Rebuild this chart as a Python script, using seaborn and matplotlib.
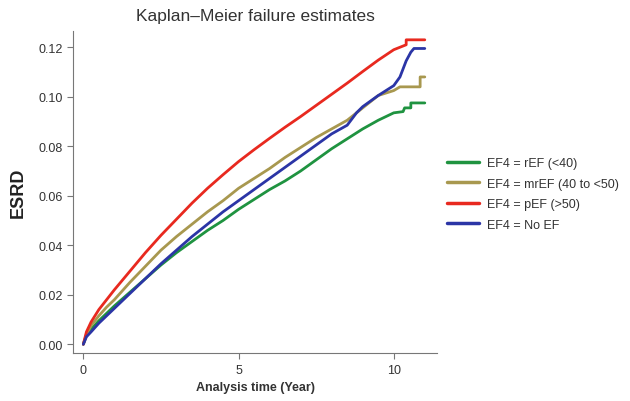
import matplotlib
matplotlib.use("Agg")
import matplotlib.pyplot as plt
import seaborn as sns
import pandas as pd

# Kaplan-Meier failure estimates
groups = ["EF4 = rEF (<40)", "EF4 = mrEF (40 to <50)", "EF4 = pEF (>50)", "EF4 = No EF"]
colors = ["#1f9340", "#a8984f", "#e8291f", "#2b35a6"]

time_ref = [0, 0.1, 0.25, 0.5, 0.75, 1, 1.5, 2, 2.5, 3, 3.5, 4, 4.5, 5, 5.5, 6, 6.5, 7, 7.5, 8, 8.5, 9,
            9.5, 10, 10.3, 10.35, 10.55, 10.55, 11.0]
esrd_ref = [0, 0.0035, 0.006, 0.0095, 0.0125, 0.0155, 0.021, 0.0265, 0.032, 0.037, 0.0415, 0.046,
            0.050, 0.0545, 0.0585, 0.0625, 0.066, 0.070, 0.0745, 0.079, 0.083, 0.087, 0.0905,
            0.0935, 0.094, 0.0955, 0.0955, 0.0975, 0.0975]

time_mref = [0, 0.1, 0.25, 0.5, 0.75, 1, 1.5, 2, 2.5, 3, 3.5, 4, 4.5, 5, 5.5, 6, 6.5, 7, 7.5, 8, 8.5, 9,
             9.5, 10, 10.2, 10.85, 10.85, 11.0]
esrd_mref = [0, 0.004, 0.0075, 0.0115, 0.015, 0.018, 0.025, 0.0315, 0.038, 0.0435, 0.0485, 0.0535,
             0.058, 0.063, 0.067, 0.071, 0.0755, 0.0795, 0.0835, 0.087, 0.0905, 0.0955, 0.1005,
             0.1025, 0.104, 0.104, 0.108, 0.108]

time_pef = [0, 0.1, 0.25, 0.5, 0.75, 1, 1.5, 2, 2.5, 3, 3.5, 4, 4.5, 5, 5.5, 6, 6.5, 7, 7.5, 8, 8.5, 9,
            9.5, 10, 10.3, 10.4, 10.4, 11.0]
esrd_pef = [0, 0.005, 0.009, 0.014, 0.018, 0.022, 0.0295, 0.037, 0.044, 0.0505, 0.057, 0.063,
            0.0685, 0.0738, 0.0786, 0.0832, 0.0877, 0.092, 0.0965, 0.101, 0.1055, 0.1102, 0.1148,
            0.119, 0.1205, 0.121, 0.123, 0.123]

time_noef = [0, 0.1, 0.25, 0.5, 0.75, 1, 1.5, 2, 2.5, 3, 3.5, 4, 4.5, 5, 5.5, 6, 6.5, 7, 7.5, 8, 8.5,
             8.8, 9, 9.5, 10, 10.2, 10.4, 10.55, 10.65, 11.0]
esrd_noef = [0, 0.003, 0.005, 0.0085, 0.0115, 0.0145, 0.0205, 0.0265, 0.0325, 0.038, 0.0435, 0.0485,
             0.0535, 0.058, 0.0625, 0.067, 0.0715, 0.076, 0.0805, 0.085, 0.0885, 0.0935, 0.096,
             0.1005, 0.1045, 0.108, 0.1145, 0.118, 0.1195, 0.1195]

frames = []
for name, t, v in [(groups[0], time_ref, esrd_ref), (groups[1], time_mref, esrd_mref),
                   (groups[2], time_pef, esrd_pef), (groups[3], time_noef, esrd_noef)]:
    frames.append(pd.DataFrame({"time": t, "esrd": v, "group": name}))
df = pd.concat(frames, ignore_index=True)

sns.set_style("white")
plt.rcParams["font.family"] = ["Liberation Sans", "DejaVu Sans"]

fig = plt.figure(figsize=(6.3, 4.02), dpi=100)
ax = fig.add_axes([0.116, 0.119, 0.578, 0.801])

sns.lineplot(data=df, x="time", y="esrd", hue="group", hue_order=groups,
             palette=colors, estimator=None, sort=False, linewidth=2.0, ax=ax)

ax.set_xlim(-0.33, 11.4)
ax.set_ylim(-0.0036, 0.1265)
ax.set_xticks([0, 5, 10])
ax.set_yticks([0, 0.02, 0.04, 0.06, 0.08, 0.10, 0.12])
ax.set_yticklabels(["0.00", "0.02", "0.04", "0.06", "0.08", "0.10", "0.12"])
ax.tick_params(axis="both", direction="out", length=4, width=0.8, color="#777777",
               labelsize=9, labelcolor="#333333", left=True, bottom=True)

for side in ["top", "right"]:
    ax.spines[side].set_visible(False)
for side in ["left", "bottom"]:
    ax.spines[side].set_color("#777777")
    ax.spines[side].set_linewidth(0.8)

ax.set_title("Kaplan\u2013Meier failure estimates", fontsize=12.5, color="#333333", pad=8)
ax.set_xlabel("Analysis time (Year)", fontsize=9, fontweight="bold", color="#333333", labelpad=4)
ax.set_ylabel("ESRD", fontsize=13, fontweight="bold", color="#222222", labelpad=8)

leg = ax.legend(loc="center left", bbox_to_anchor=(0.995, 0.495), frameon=False,
                fontsize=9, handlelength=2.6, labelspacing=0.68, handletextpad=0.6)
for line in leg.get_lines():
    line.set_linewidth(2.5)
for text in leg.get_texts():
    text.set_color("#333333")

fig.savefig("out.png", dpi=100)
